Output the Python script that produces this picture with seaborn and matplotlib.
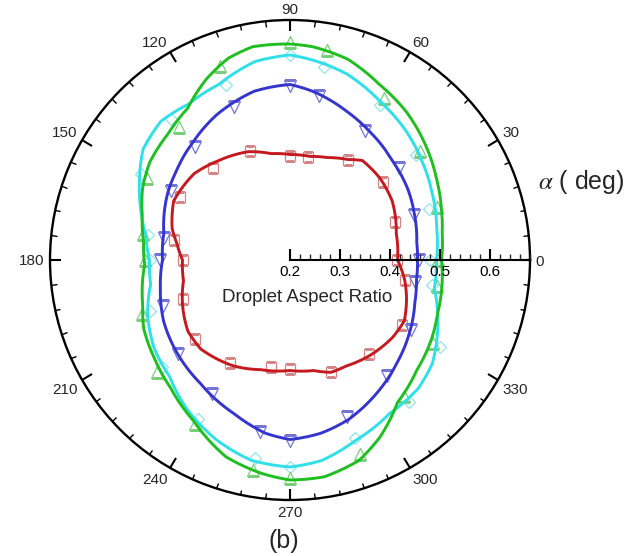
import numpy as np
import pandas as pd
import matplotlib
matplotlib.use("Agg")
import matplotlib.pyplot as plt
from matplotlib.ticker import FixedLocator, MultipleLocator
import seaborn as sns

# ---------------- data (angles in degrees, droplet aspect ratio) ----------------
marker_deg = [0, 20, 40, 60, 80, 90, 110, 130, 150, 170, 180, 200, 220, 240, 260, 270, 290, 310, 330, 350]

red_mk = [0.413, 0.423, 0.442, 0.430, 0.410, 0.409, 0.431, 0.441, 0.453, 0.436, 0.415, 0.427, 0.447, 0.438, 0.418, 0.417, 0.439, 0.446, 0.459, 0.433]
blue_mk = [0.457, 0.463, 0.485, 0.499, 0.534, 0.549, 0.525, 0.495, 0.475, 0.456, 0.461, 0.470, 0.492, 0.510, 0.550, 0.561, 0.535, 0.503, 0.480, 0.454]
cyan_mk = [0.480, 0.496, 0.528, 0.559, 0.592, 0.610, 0.573, 0.569, 0.543, 0.489, 0.480, 0.498, 0.534, 0.568, 0.602, 0.614, 0.579, 0.571, 0.547, 0.489]
green_mk = [0.495, 0.512, 0.540, 0.574, 0.627, 0.636, 0.612, 0.546, 0.530, 0.499, 0.491, 0.514, 0.548, 0.579, 0.627, 0.636, 0.612, 0.555, 0.531, 0.499]

red_line_deg = [0, 14, 30, 42, 54, 60, 70, 79, 90, 100, 111, 126, 138, 153, 165, 172, 180, 191, 205, 215, 225, 242, 255, 270, 282, 290, 298, 310, 323, 332, 342, 350]
red_line_r = [0.415, 0.419, 0.436, 0.443, 0.446, 0.432, 0.418, 0.411, 0.411, 0.416, 0.432, 0.445, 0.458, 0.461, 0.444, 0.428, 0.415, 0.417, 0.436, 0.449, 0.452, 0.440, 0.427, 0.421, 0.426, 0.439, 0.440, 0.449, 0.457, 0.459, 0.445, 0.433]

blue_line_deg = [0, 8, 20, 31, 44, 58, 69, 82, 90, 102, 117, 129, 141, 152, 168, 180, 192, 206, 220, 234, 250, 262, 270, 280, 290, 303, 316, 327, 341, 351]
blue_line_r = [0.455, 0.456, 0.465, 0.475, 0.485, 0.502, 0.518, 0.540, 0.551, 0.545, 0.525, 0.506, 0.490, 0.478, 0.458, 0.455, 0.465, 0.481, 0.493, 0.505, 0.527, 0.550, 0.559, 0.552, 0.540, 0.518, 0.497, 0.482, 0.464, 0.456]

cyan_line_deg = [0, 12, 25, 37, 48, 60, 73, 84, 90, 100, 112, 123, 133, 143, 152, 161, 170, 180, 190, 201, 213, 224, 236, 248, 259, 270, 279, 290, 303, 315, 324, 332, 341, 349]
cyan_line_r = [0.493, 0.500, 0.514, 0.530, 0.547, 0.564, 0.589, 0.603, 0.610, 0.603, 0.579, 0.572, 0.579, 0.568, 0.541, 0.516, 0.493, 0.481, 0.483, 0.505, 0.524, 0.535, 0.564, 0.589, 0.608, 0.614, 0.606, 0.584, 0.566, 0.563, 0.552, 0.533, 0.512, 0.494]

green_line_deg = [0, 10, 19, 29, 39, 52, 63, 74, 84, 90, 100, 107, 115, 124, 134, 145, 154, 163, 173, 182, 197, 205, 216, 227, 239, 252, 262, 270, 279, 289, 297, 307, 319, 331, 340, 349]
green_line_r = [0.503, 0.509, 0.520, 0.535, 0.553, 0.577, 0.594, 0.618, 0.629, 0.632, 0.633, 0.622, 0.598, 0.566, 0.551, 0.542, 0.528, 0.509, 0.495, 0.491, 0.508, 0.523, 0.535, 0.550, 0.575, 0.614, 0.630, 0.640, 0.639, 0.624, 0.597, 0.557, 0.536, 0.524, 0.514, 0.509]

angle_ticks = [0, 30, 60, 90, 120, 150, 180, 210, 240, 270, 300, 330]
radial_ticks = [0.2, 0.3, 0.4, 0.5, 0.6]
r_min, r_max = 0.2, 0.68

series = [
    # name, line deg, line r, marker r, line color, marker color, marker, size
    ("red", red_line_deg, red_line_r, red_mk, "#c41a1f", "#d58585", "s", 6.5),
    ("blue", blue_line_deg, blue_line_r, blue_mk, "#3434cf", "#7474d6", "v", 8),
    ("cyan", cyan_line_deg, cyan_line_r, cyan_mk, "#2fe0e8", "#8fe6ee", "D", 6.5),
    ("green", green_line_deg, green_line_r, green_mk, "#1fbf1f", "#78cf78", "^", 8),
]

# ---------------- styling ----------------
sns.set_style("white")
plt.rcParams["font.family"] = ["Liberation Sans", "DejaVu Sans"]
plt.rcParams["mathtext.fontset"] = "stix"

W, H = 640, 556
fig = plt.figure(figsize=(W / 100, H / 100), dpi=100)
fig.patch.set_facecolor("white")

cx, cy, R = 290, 260, 240
ax = fig.add_axes([(cx - R) / W, (H - cy - R) / H, 2 * R / W, 2 * R / H], projection="polar")
ax.set_facecolor("none")

for name, ldeg, lr, mr, lc, mc, mk, ms in series:
    th = np.deg2rad(list(ldeg) + [ldeg[0] + 360])
    rr = list(lr) + [lr[0]]
    dfl = pd.DataFrame({"theta": th, "r": rr})
    n_before = len(ax.lines)
    sns.lineplot(data=dfl, x="theta", y="r", ax=ax, sort=False, color=lc, lw=2.1,
                 estimator=None, zorder=3)
    for ln in ax.lines[n_before:]:
        ln.set_solid_joinstyle("round")
        ln.get_path()._interpolation_steps = 16
        ln.recache(always=True)
    dfm = pd.DataFrame({"theta": np.deg2rad(marker_deg), "r": mr})
    ax.plot(dfm["theta"], dfm["r"], linestyle="none", marker=mk, markersize=ms,
            markerfacecolor="none", markeredgecolor=mc, markeredgewidth=0.9, zorder=2)

ax.set_ylim(r_min, r_max)
ax.set_yticks([])
ax.grid(False)
ax.spines["polar"].set_linewidth(1.7)
ax.spines["polar"].set_color("black")
ax.set_xticks(np.deg2rad(angle_ticks))
ax.set_xticklabels([])
ax.xaxis.set_minor_locator(FixedLocator(np.deg2rad(np.arange(0, 360, 6))))
ax.tick_params(axis="x", which="both", bottom=False, top=True, labeltop=False, labelbottom=False)
ax.tick_params(axis="x", which="major", direction="in", length=8, width=1.5, colors="black")
ax.tick_params(axis="x", which="minor", direction="in", length=4, width=1.0, colors="black")
ax.set_xlabel("")
ax.set_ylabel("")

# angle labels placed just outside the circle (box corner offset from the tick)
px2r = (r_max - r_min) / R
for a in angle_ticks:
    s = str(a)
    t = np.deg2rad(a)
    c, sn = np.round(np.cos(t), 6), np.round(np.sin(t), 6)
    w_px, h_px = 8.0 * len(s), 11.0
    x = (R + 6) * c + np.sign(c) * w_px / 2
    y = (R + 6) * sn + np.sign(sn) * h_px / 2
    ax.text(np.arctan2(y, x), r_min + np.hypot(x, y) * px2r, s, ha="center",
            va="center_baseline", fontsize=11, clip_on=False)

# radial axis drawn as a horizontal scale from centre to the outer circle
ax2 = fig.add_axes([cx / W, (H - cy + 0.5) / H, R / W, 0.04])
ax2.set_facecolor("none")
ax2.set_xlim(r_min, r_max)
ax2.set_ylim(0, 1)
for s in ["top", "right", "left"]:
    ax2.spines[s].set_visible(False)
ax2.spines["bottom"].set_linewidth(1.5)
ax2.spines["bottom"].set_color("black")
ax2.set_yticks([])
ax2.set_xticks(radial_ticks)
ax2.set_xticklabels([f"{v:.1f}" for v in radial_ticks])
ax2.xaxis.set_minor_locator(MultipleLocator(0.02))
ax2.tick_params(axis="x", which="both", bottom=True, top=False)
ax2.tick_params(axis="x", which="major", direction="in", length=8, width=1.5,
                labelsize=11, pad=4, colors="black")
ax2.tick_params(axis="x", which="minor", direction="in", length=4, width=1.0)

fig.text(307 / W, 1 - 297 / H, "Droplet Aspect Ratio", ha="center", va="center", fontsize=13.5)
fig.text(538 / W, 1 - 182 / H, r"$\alpha$ ( deg)", ha="left", va="center", fontsize=18)
fig.text(284 / W, 1 - 541 / H, "(b)", ha="center", va="center", fontsize=18)

fig.savefig("out.png", dpi=100, facecolor="white")
